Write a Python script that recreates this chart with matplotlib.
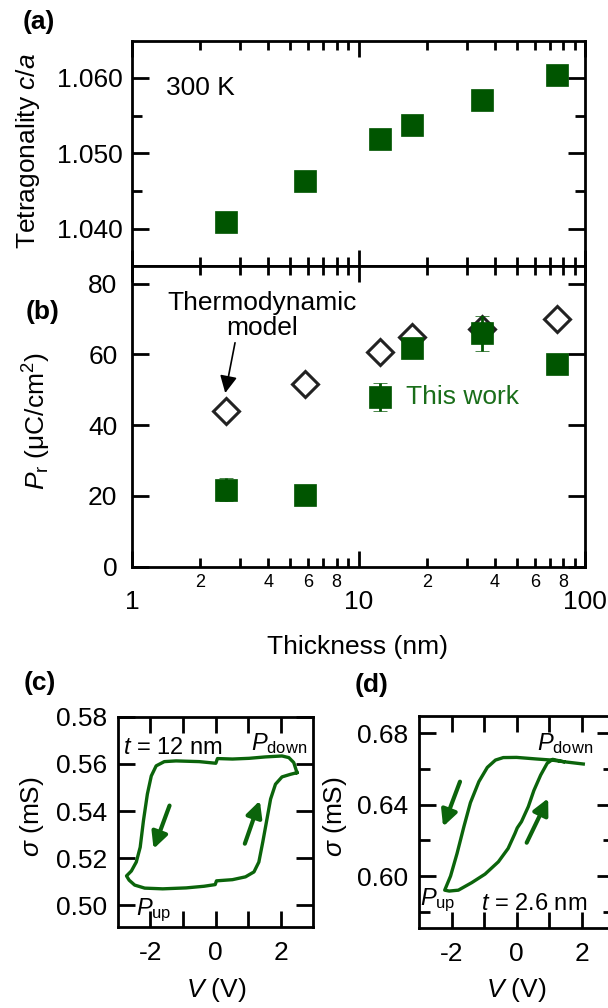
import numpy as np
import matplotlib
matplotlib.use('Agg')
import matplotlib.pyplot as plt
from matplotlib.ticker import FixedLocator, FuncFormatter, LogLocator, NullFormatter

plt.rcParams['font.family'] = 'Liberation Sans'
plt.rcParams['mathtext.fontset'] = 'custom'
plt.rcParams['mathtext.rm'] = 'Liberation Sans'
plt.rcParams['mathtext.it'] = 'Liberation Sans:italic'
plt.rcParams['mathtext.bf'] = 'Liberation Sans:bold'
plt.rcParams['axes.unicode_minus'] = False

# ---- data ----
# (a) tetragonality vs thickness
thick = [2.6, 5.8, 12.5, 17.3, 35, 75]
ca = [1.0409, 1.0463, 1.0519, 1.0537, 1.0570, 1.0603]

# (b) remanent polarisation
pr_thick = [2.6, 5.8, 17.3, 35, 75]
pr = [21.8, 20.3, 61.8, 66.0, 57.3]
pr_err = [3.2, 0.0, 0.0, 5.0, 0.0]
model_thick = [2.6, 5.8, 12.5, 17.3, 35, 75]
model_pr = [43.9, 51.6, 60.6, 64.9, 67.2, 70.1]
legend_x, legend_y, legend_err = 12.5, 48.0, 4.0

# (c) hysteresis loop, t = 12 nm
v_c = [2.50, 2.40, 2.25, 2.04, 1.53, 1.03, 0.52, 0.06, 0.01, -0.50, -1.21, -1.57,
       -1.82, -1.97, -2.09, -2.21, -2.31, -2.43, -2.58, -2.73, -2.65, -2.48, -2.17,
       -1.62, -0.90, -0.35, -0.01, 0.03, 0.52, 0.92, 1.18, 1.33, 1.45, 1.57, 1.69,
       1.84, 2.04, 2.30, 2.50]
s_c = [0.5563, 0.5606, 0.5627, 0.5634, 0.5630, 0.5624, 0.5621, 0.5623, 0.5603,
       0.5610, 0.5613, 0.5610, 0.5592, 0.5549, 0.5472, 0.5359, 0.5246, 0.5183,
       0.5145, 0.5124, 0.5106, 0.5085, 0.5072, 0.5069, 0.5073, 0.5080, 0.5087,
       0.5103, 0.5108, 0.5120, 0.5141, 0.5183, 0.5268, 0.5359, 0.5451, 0.5514,
       0.5545, 0.5556, 0.5563]

# (d) hysteresis loop, t = 2.6 nm
v_d = [2.05, 1.44, 1.08, 0.62, 0.00, -0.41, -0.65, -0.90, -1.16, -1.42, -1.62,
       -1.83, -2.03, -2.21, -2.07, -1.79, -1.38, -0.97, -0.56, -0.26, -0.05, 0.02,
       0.15, 0.36, 0.53, 0.74, 0.94, 1.11, 1.44]
s_d = [0.6628, 0.6641, 0.6650, 0.6656, 0.6665, 0.6664, 0.6650, 0.6609, 0.6529,
       0.6411, 0.6277, 0.6127, 0.6000, 0.5921, 0.5916, 0.5921, 0.5963, 0.6011,
       0.6080, 0.6155, 0.6239, 0.6270, 0.6305, 0.6389, 0.6479, 0.6566, 0.6632,
       0.6654, 0.6641]

# sweep direction arrows (tail, head)
arrows_c = [((-1.41, 0.5423), (-1.90, 0.5239)), ((0.90, 0.5261), (1.36, 0.5444))]
arrows_d = [((-1.74, 0.6529), (-2.26, 0.6277)), ((0.31, 0.6187), (0.97, 0.6436))]

sq_green = '#005500'
line_green = '#0b640b'
text_green = '#1a6e1a'
W, H = 608, 1008
FS = 19


def px_axes(l, t, r, b):
    # pixel box -> figure fraction
    return [l / W, 1 - b / H, (r - l) / W, (b - t) / H]


def frame(ax, pad_x, pad_y, lx=11.5, ly=12):
    for s in ax.spines.values():
        s.set_linewidth(2)
    ax.tick_params(which='both', direction='in', top=True, right=True, width=2,
                   labelsize=FS)
    ax.tick_params(axis='x', which='major', length=lx, pad=pad_x)
    ax.tick_params(axis='y', which='major', length=ly, pad=pad_y)


fig = plt.figure(figsize=(W / 100, H / 100), dpi=100)

# ---- (a) ----
ax_a = fig.add_axes(px_axes(132, 40.7, 585, 266))
ax_a.plot(thick, ca, 's', ms=16, color=sq_green, mec=sq_green, mew=0.5)
ax_a.set_xscale('log')
ax_a.set_xlim(1, 100)
ax_a.set_ylim(1.0351, 1.0649)
ax_a.xaxis.set_minor_locator(LogLocator(base=10, subs=np.arange(2, 10)))
ax_a.xaxis.set_major_formatter(NullFormatter())
ax_a.xaxis.set_minor_formatter(NullFormatter())
ax_a.yaxis.set_major_locator(FixedLocator([1.040, 1.050, 1.060]))
ax_a.yaxis.set_minor_locator(FixedLocator([1.045, 1.055]))
ax_a.yaxis.set_major_formatter(FuncFormatter(lambda v, p: '%.3f' % v))
frame(ax_a, 4, 6.5)
ax_a.tick_params(axis='x', which='minor', length=6.5)
ax_a.tick_params(axis='y', which='minor', length=7)
ax_a.text(1.413, 1.0586, '300 K', fontsize=FS, va='center', ha='left')

# ---- (b) ----
ax_b = fig.add_axes(px_axes(132, 266, 585, 566.7))
ax_b.plot(model_thick, model_pr, 'D', ms=13, mfc='white', mec='#222222', mew=2.2,
          zorder=2)
ax_b.errorbar(pr_thick, pr, yerr=pr_err, fmt='s', ms=16, color=sq_green,
              mec=sq_green, mew=0.5, ecolor=sq_green, elinewidth=2, capsize=5,
              capthick=2, zorder=3)
ax_b.errorbar([legend_x], [legend_y], yerr=[legend_err], fmt='s', ms=16,
              color=sq_green, mec=sq_green, mew=0.5, ecolor=sq_green,
              elinewidth=2, capsize=5, capthick=2, zorder=3)
ax_b.text(16.2, legend_y, 'This work', color=text_green, fontsize=FS,
          va='center', ha='left')
ax_b.text(3.76, 71.0, 'Thermodynamic\nmodel', fontsize=FS, ha='center',
          va='center', linespacing=1.07)
ax_b.annotate('', xy=(2.58, 49.1), xytext=(2.85, 63.3),
              arrowprops=dict(arrowstyle='-|>', color='black', lw=1.2,
                              mutation_scale=26, shrinkA=0, shrinkB=0))
ax_b.set_xscale('log')
ax_b.set_xlim(1, 100)
ax_b.set_ylim(0, 85)
ax_b.set_yticks([0, 20, 40, 60, 80])
ax_b.xaxis.set_minor_locator(LogLocator(base=10, subs=np.arange(2, 10)))


def minor_fmt(v, pos):
    d = int(round(v / 10 ** np.floor(np.log10(v) + 1e-9)))
    return str(d) if d in (2, 4, 6, 8) else ''


ax_b.xaxis.set_major_formatter(FuncFormatter(lambda v, p: '%g' % v))
ax_b.xaxis.set_minor_formatter(FuncFormatter(minor_fmt))
frame(ax_b, 17, 10.5)
ax_b.tick_params(axis='x', which='minor', length=6.5, labelsize=13, pad=5)

# ---- (c) ----
ax_c = fig.add_axes(px_axes(117.7, 716.7, 313.3, 926.7))
ax_c.plot(v_c, s_c, color=line_green, lw=2.4, solid_joinstyle='round')
for tail, head in arrows_c:
    ax_c.annotate('', xy=head, xytext=tail,
                  arrowprops=dict(arrowstyle='-|>', color=line_green, lw=3,
                                  mutation_scale=24, shrinkA=0, shrinkB=0))
ax_c.set_xlim(-3, 3)
ax_c.set_ylim(0.4908, 0.5801)
ax_c.set_xticks([-2, 0, 2])
ax_c.xaxis.set_minor_locator(FixedLocator([-1, 1]))
ax_c.set_yticks([0.50, 0.52, 0.54, 0.56, 0.58])
ax_c.yaxis.set_major_formatter(FuncFormatter(lambda v, p: '%.2f' % v))
frame(ax_c, 10, 7.5)
ax_c.tick_params(axis='x', which='minor', length=11.5)
ax_c.text(-2.84, 0.5642, '$t$ = 12 nm', fontsize=17, va='baseline', ha='left')
ax_c.text(1.08, 0.5659, r'$P_{\rm down}$', fontsize=17, va='baseline', ha='left')
ax_c.text(-2.43, 0.4958, r'$P_{\rm up}$', fontsize=17, va='baseline', ha='left')

# ---- (d) ----
ax_d = fig.add_axes(px_axes(419, 716, 614.2, 928))
ax_d.plot(v_d, s_d, color=line_green, lw=2.4, solid_joinstyle='round')
for tail, head in arrows_d:
    ax_d.annotate('', xy=head, xytext=tail,
                  arrowprops=dict(arrowstyle='-|>', color=line_green, lw=3,
                                  mutation_scale=24, shrinkA=0, shrinkB=0))
ax_d.set_xlim(-3, 3)
ax_d.set_ylim(0.5709, 0.6897)
ax_d.set_xticks([-2, 0, 2])
ax_d.xaxis.set_minor_locator(FixedLocator([-1, 1]))
ax_d.set_yticks([0.60, 0.64, 0.68])
ax_d.yaxis.set_minor_locator(FixedLocator([0.58, 0.62, 0.66]))
ax_d.yaxis.set_major_formatter(FuncFormatter(lambda v, p: '%.2f' % v))
frame(ax_d, 10, 7.5)
ax_d.tick_params(axis='x', which='minor', length=11.5)
ax_d.tick_params(axis='y', which='minor', length=8)
ax_d.text(0.62, 0.6707, r'$P_{\rm down}$', fontsize=17, va='baseline', ha='left')
ax_d.text(-2.97, 0.5837, r'$P_{\rm up}$', fontsize=17, va='baseline', ha='left')
ax_d.text(-1.08, 0.5809, '$t$ = 2.6 nm', fontsize=17, va='baseline', ha='left')

# ---- axis labels and panel letters (pixel positions) ----
def ftext(x, y, s, **kw):
    fig.text(x / W, 1 - y / H, s, ha='center', va='center', fontsize=FS, **kw)


ftext(28, 150.5, 'Tetragonality $c/a$', rotation=90)
ftext(37, 421, r'$P_{\rm r}$ (μC/cm$^{2}$)', rotation=90)
ftext(357.6, 646.7, 'Thickness (nm)')
ftext(32.5, 817, r'$\sigma$ (mS)', rotation=90)
ftext(335, 817, r'$\sigma$ (mS)', rotation=90)
ftext(216, 990, '$V$ (V)')
ftext(516.7, 990, '$V$ (V)')
ftext(39, 21.7, '(a)', fontweight='bold')
ftext(43, 311.7, '(b)', fontweight='bold')
ftext(40, 683, '(c)', fontweight='bold')
ftext(372, 685, '(d)', fontweight='bold')

fig.savefig('out.png', dpi=100)
